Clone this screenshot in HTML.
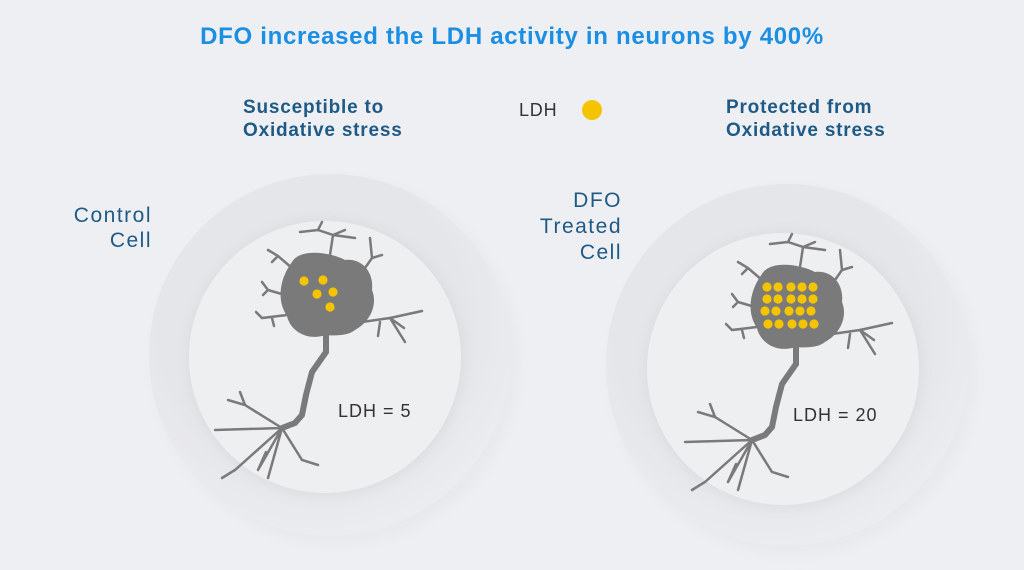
<!DOCTYPE html>
<html><head><style>
body{margin:0;width:1024px;height:570px;background:#eeeff2;position:relative;overflow:hidden;font-family:"Liberation Sans",sans-serif}
.t{position:absolute;white-space:nowrap}
</style></head><body>
<svg width="1024" height="570" style="position:absolute;left:0;top:0">
<defs>
<radialGradient id="ring" cx="0.45" cy="0.4" r="0.6"><stop offset="0.7" stop-color="#e5e6e9"/><stop offset="1" stop-color="#ebecef"/></radialGradient>
<filter id="sh" x="-20%" y="-20%" width="140%" height="140%"><feGaussianBlur stdDeviation="6"/></filter>
<g id="neuron" fill="#7a7a7a" stroke="#7a7a7a" stroke-linecap="round">
<path stroke="none" d="M292,262 C300,248 330,252 345,260 C362,258 374,272 372,290 C378,305 370,322 355,330 C345,338 330,334 322,336 C305,340 290,330 287,316 C276,300 280,278 292,262Z"/>
<path fill="none" stroke-width="6" d="M326,335 L326,352 L312,372 L306,395 L302,415 L295,423 L282,428"/>
<g fill="none" stroke-width="2.5">
<path d="M282,428 L215,430 M282,428 L245,405 L228,400 M245,405 L240,392 M282,428 L258,470 M282,428 L268,478 M282,428 L302,460 L318,465 M282,428 L235,470 L222,478 M258,470 L266,452"/>
<path d="M330,255 L333,235 L318,230 L300,232 M333,235 L345,230 M333,235 L355,238 M318,230 L322,222"/>
<path d="M365,268 L372,258 L370,238 M372,258 L382,255"/>
<path d="M292,268 L278,256 L268,250 M278,256 L272,262"/>
<path d="M285,295 L268,290 L262,282 M268,290 L263,295"/>
<path d="M287,315 L262,318 L256,312 M272,318 L274,326"/>
<path d="M362,322 L390,318 L422,311 M390,318 L405,342 M390,318 L404,328 M380,322 L378,336"/>
</g></g>
</defs>
<circle cx="336" cy="362" r="183" fill="#e8e9ec" filter="url(#sh)"/>
<circle cx="330" cy="355" r="181" fill="url(#ring)"/>
<circle cx="326" cy="358" r="139" fill="#d3d4d8" filter="url(#sh)" opacity="0.5"/>
<circle cx="325" cy="357" r="136" fill="#eeeff1"/>
<circle cx="793" cy="372" r="183" fill="#e8e9ec" filter="url(#sh)"/>
<circle cx="787" cy="365" r="181" fill="url(#ring)"/>
<circle cx="784" cy="370" r="139" fill="#d3d4d8" filter="url(#sh)" opacity="0.5"/>
<circle cx="783" cy="369" r="136" fill="#eeeff1"/>
<use href="#neuron"/>
<use href="#neuron" transform="translate(470,12)"/>
<g fill="#f5c400">
<circle cx="304" cy="281" r="4.6"/><circle cx="323" cy="280" r="4.6"/><circle cx="317" cy="294" r="4.6"/><circle cx="333" cy="292" r="4.6"/><circle cx="330" cy="307" r="4.6"/>
<g id="r1"><circle cx="767" cy="287" r="4.6"/><circle cx="778" cy="287" r="4.6"/><circle cx="791" cy="287" r="4.6"/><circle cx="802" cy="287" r="4.6"/><circle cx="813" cy="287" r="4.6"/></g>
<use href="#r1" transform="translate(0,12)"/><use href="#r1" transform="translate(-2,24)"/><use href="#r1" transform="translate(1,37)"/>
<circle cx="592" cy="110" r="10"/>
</g>
</svg>
<div class="t" style="left:0;width:1024px;text-align:center;top:23px;font-size:24px;letter-spacing:0.7px;font-weight:bold;color:#1a8fe3">DFO increased the LDH activity in neurons by 400%</div>
<div class="t" style="left:243px;top:96px;font-size:19px;letter-spacing:0.8px;font-weight:bold;color:#1f5a86;line-height:23px">Susceptible to<br>Oxidative stress</div>
<div class="t" style="left:726px;top:96px;font-size:19px;letter-spacing:0.8px;font-weight:bold;color:#1f5a86;line-height:23px">Protected from<br>Oxidative stress</div>
<div class="t" style="left:519px;top:100px;font-size:18px;letter-spacing:0.8px;color:#333">LDH</div>
<div class="t" style="left:40px;width:112px;text-align:right;top:203px;font-size:21px;letter-spacing:1.5px;color:#1f5a86;line-height:25px">Control<br>Cell</div>
<div class="t" style="left:500px;width:122px;text-align:right;top:188px;font-size:21px;letter-spacing:1.5px;color:#1f5a86;line-height:26px">DFO<br>Treated<br>Cell</div>
<div class="t" style="left:338px;top:401px;font-size:18px;letter-spacing:1px;color:#333">LDH = 5</div>
<div class="t" style="left:793px;top:405px;font-size:18px;letter-spacing:1px;color:#333">LDH = 20</div>
</body></html>
